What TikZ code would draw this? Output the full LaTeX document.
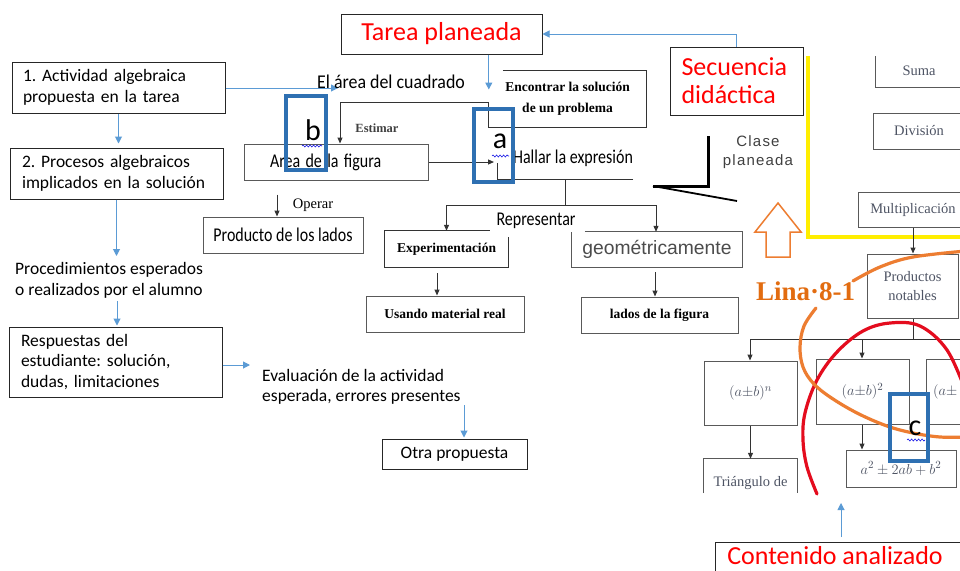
\documentclass[tikz,border=0pt]{standalone}
\usepackage{fontspec}
\usepackage{graphicx}
\setmainfont{Carlito}
\newfontfamily\calfont{Carlito}
\newfontfamily\serfont{Liberation Serif}
\newfontfamily\arfont{Liberation Sans}
\newfontfamily\arspfont[LetterSpace=8]{Liberation Sans}
\usetikzlibrary{arrows.meta,decorations.pathmorphing}
\frenchspacing

\definecolor{cblue}{RGB}{91,155,213}
\definecolor{mblue}{RGB}{46,112,178}
\definecolor{sqblue}{RGB}{20,20,230}
\definecolor{tred}{RGB}{255,0,0}
\definecolor{ered}{RGB}{228,12,30}
\definecolor{eorange}{RGB}{237,125,49}
\definecolor{lorange}{RGB}{226,108,16}
\definecolor{yel}{RGB}{255,238,0}
\definecolor{gtxt}{RGB}{78,84,100}

\newcommand\condtxt[1]{\scalebox{0.82}[1]{#1}}

\begin{document}
\begin{tikzpicture}[x=1pt,y=-1pt,
  ltxt/.style={inner sep=0pt, align=left, font=\calfont\fontsize{17.5}{20.5}\selectfont},
  lbox/.style={ltxt, draw=black!85, line width=1pt},
  rtitle/.style={draw=black!85, line width=1pt, inner sep=0pt, text=tred,
                 font=\calfont\fontsize{26}{28}\selectfont},
  cond/.style={inner sep=0pt, font=\calfont\fontsize{19.5}{22}\selectfont},
  tmb/.style={inner sep=0pt, align=center, font=\serfont\bfseries\fontsize{13.5}{21}\selectfont},
  tmr/.style={inner sep=0pt, font=\serfont\fontsize{14.5}{17}\selectfont},
  gbox/.style={draw=black!65, line width=1pt},
  kline/.style={draw=black!80, line width=1pt},
  karr/.style={kline, -{Triangle[length=6pt,width=5pt]}},
  barr/.style={draw=cblue, line width=1pt, -{Triangle[length=7pt,width=7pt]}},
  rser/.style={inner sep=0pt, align=center, text=gtxt, font=\serfont\fontsize{14.5}{19}\selectfont},
  rmath/.style={inner sep=0pt, text=gtxt, font=\fontsize{15}{17}\selectfont},
  letterbox/.style={draw=mblue, line width=4.5pt, inner sep=0pt},
  lettertxt/.style={inner sep=0pt, font=\calfont\fontsize{30}{30}\selectfont},
  squig/.style={draw=sqblue, line width=0.6pt, decorate,
                decoration={snake, amplitude=1pt, segment length=3.5pt}}
]
\useasboundingbox (0,0) rectangle (960,570);
\clip (0,0) rectangle (960,570);
\fill[white] (0,0) rectangle (960,570);

% ---------------- left column: analysis steps ----------------
\node[lbox, minimum width=213pt, minimum height=51pt, text width=191pt] (act) at (118.5,87.5)
  {1. Actividad algebraica\\propuesta en la tarea};
\node[lbox, minimum width=213pt, minimum height=51pt, text width=189pt] (proc) at (116.5,173.5)
  {2. Procesos algebraicos\\implicados en la solución};
\node[ltxt, anchor=west] (pea) at (15,280.5)
  {Procedimientos esperados\\o realizados por el alumno};
\node[lbox, minimum width=213pt, minimum height=70pt, text width=189pt] (resp) at (115.5,362)
  {Respuestas del\\estudiante: solución,\\dudas, limitaciones};
\node[ltxt, anchor=west] (eval) at (262,387)
  {Evaluación de la actividad\\esperada, errores presentes};
\node[lbox, minimum width=145pt, minimum height=30pt] (otra) at (454.5,454) {Otra propuesta};

\coordinate (peaTop) at (117,256);
\coordinate (peaBot) at (117,301);
\coordinate (evalIn) at (250,365);
\coordinate (evalOut) at (464,405);
\coordinate (elArrow) at (338,88);

\draw[barr, shorten >=4pt] (act.south) -- (act.south |- proc.north);
\draw[barr] (proc.south) -- (proc.south |- peaTop);
\draw[barr, shorten >=1pt] (peaBot) -- (peaBot |- resp.north);
\draw[barr] (resp.east |- evalIn) -- (evalIn);
\draw[barr, shorten >=1pt] (evalOut) -- (evalOut |- otra.north);
\draw[barr] (act.east |- elArrow) -- (elArrow);

% ---------------- titles ----------------
\node[rtitle, minimum width=201pt, minimum height=40pt] (tarea) at (441.5,34) {Tarea planeada};
\node[rtitle, minimum width=133pt, minimum height=68pt, text width=110pt, align=left] (sec)
  at (736.5,81) {Secuencia\\didáctica};

% ---------------- planned task map ----------------
\node[cond] (elarea) at (391,82) {\scalebox{1.12}[1]{\condtxt{El área del cuadrado}}};

\node[tmb, minimum width=157pt, minimum height=56pt] (enc) at (567.5,99)
  {Encontrar la solución\\de un problema};
\coordinate (estk) at (340,102);
\draw[kline] ([xshift=14pt]enc.north west) -- (enc.north east) -- (enc.south east)
  -- (enc.south west) -- (enc.south west |- estk) -- (estk);

\draw[barr] (sec.north) |- (tarea.east);
\draw[barr] (tarea.south -| enc.west) -- ++(0,35);

\node[tmb, text=black!75, font=\serfont\bfseries\fontsize{12.5}{15}\selectfont] (estimar) at (377,128) {Estimar};

\node[gbox, cond, minimum width=184pt, minimum height=36pt, text width=132pt, align=left] (area)
  at (336,162) {\condtxt{Area de la figura}};
\draw[karr] (estk) -- (estk |- area.north);

\node[cond] (hal) at (573,158) {\condtxt{Hallar la expresión}};
\coordinate (halSW) at (497,179);
\draw[kline] (halSW -| hal.east) -- (halSW) -- ++(0,-16);
\draw[karr, shorten >=3pt] (area.east) -- (area.east -| halSW);

\coordinate (rep) at (565,205);
\node[cond] (repr) at (536,221) {\condtxt{Representar}};

\node[tmb, minimum width=123pt, minimum height=36pt] (exp) at (446.5,249) {Experimentación};
\draw[kline] ([xshift=105pt]exp.north west) -- (exp.north west) -- (exp.south west)
  -- (exp.south east) -- ([yshift=-6pt]exp.north east);
\node[tmb, gbox, minimum width=158pt, minimum height=36pt] (usa) at (445,314) {Usando material real};

\node[inner sep=0pt, text=black!70, font=\arfont\fontsize{19.3}{22}\selectfont,
      minimum width=170pt, minimum height=35pt] (geo) at (657,249.5) {geométricamente};
\draw[kline, draw=black!65] ([xshift=13pt]geo.north west) -- (geo.north east) -- (geo.south east)
  -- (geo.south west) -- (geo.north west);
\node[tmb, gbox, minimum width=157pt, minimum height=36pt] (lados) at (659.5,315) {lados de la figura};

\draw[kline] (halSW -| rep) -- (rep);
\draw[karr] (rep) -| (exp.north);
\draw[karr] (rep) -| ([xshift=-1pt]geo.north);
\draw[karr] ([shift={(-9.5,6)}]exp.south) -- ([xshift=-9.5pt]exp.south |- usa.north);
\draw[karr] ([shift={(-2,5)}]geo.south) -- ([xshift=-2pt]geo.south |- lados.north);

\node[cond, gbox, minimum width=160pt, minimum height=36pt] (prod) at (283,235) {\condtxt{Producto de los lados}};
\node[tmr] (operar) at (313,205) {Operar};
\draw[karr] ([shift={(-6,-22)}]prod.north) -- ([xshift=-6pt]prod.north);

% ---------------- planned class ----------------
\node[inner sep=0pt, align=center, text=black!75, font=\arspfont\fontsize{15}{19}\selectfont] (clase)
  at (758,152) {Clase\\planeada};
\draw[black, line width=3pt] (708,136) -- (708,186) -- (653,186);
\draw[black, line width=1.8pt] (653,186) -- (737,201);

\draw[eorange, line width=1.5pt, fill=white] (778,203) -- (801,232) -- (790,232) -- (790,257)
  -- (766,257) -- (766,232) -- (755,232) -- cycle;

\draw[yel, line width=4pt] (808,56) -- (808,237) -- (965,237);

% ---------------- analysed content ----------------
\node[rser] (suma) at (919,71) {Suma};
\draw[gbox] (875,56) -- (875,87) -- (965,87);
\node[rser, gbox, minimum width=92pt, minimum height=36pt] (div) at (919,131) {División};
\node[rser, gbox, minimum width=110pt, minimum height=35pt, text width=100pt] (mult) at (913,209.5)
  {Multiplicación};
\node[rser, gbox, minimum width=91pt, minimum height=64pt] (pn) at (912.5,286) {Productos\\notables};
\draw[karr] (mult.south) -- (mult.south |- pn.north);

\coordinate (hb) at (913,339);
\coordinate (hbL) at (750,339);
\coordinate (hbM) at (862,339);
\draw[kline] (pn.south -| hb) -- (hb);
\draw[kline] (hbL) -- (965,339);

\node[rmath, gbox, minimum width=93pt, minimum height=64pt] (pw) at (750.5,393) {$(a{\pm}b)^n$};
\node[rmath, gbox, minimum width=93pt, minimum height=65pt] (sqr) at (862.5,391.5) {$(a{\pm}b)^2$};
\node[rmath, gbox, minimum width=94pt, minimum height=65pt] (cub) at (973,391.5) {};
\node[rmath, anchor=west] (cubtxt) at (933,392) {$(a{\pm}$};
\node[rmath, gbox, minimum width=110pt, minimum height=37pt] (dev) at (901,468.5) {$a^2\pm 2ab+b^2$};
\node[inner sep=0pt, minimum width=93pt, minimum height=34pt] (tri) at (750.5,476) {};
\node[rser] (tritxt) at (750.5,483) {Triángulo de};
\draw[gbox] (tri.south west) -- (tri.north west) -- (tri.north east) -- (tri.south east);

\draw[karr] (hbL) -- (hbL |- pw.north);
\draw[karr] (hbM) -- (hbM |- sqr.north);
\draw[karr] (pw.south) -- (pw.south |- tri.north);
\draw[karr] (sqr.south -| hbM) -- (hbM |- dev.north);

\draw[kline, draw=black!85] (715,542) rectangle (1000,620);
\node[inner sep=0pt, text=tred, anchor=base, font=\calfont\fontsize{26}{28}\selectfont] (cont)
  at (835,564) {Contenido analizado};
\coordinate (contUp) at (841,503);
\coordinate (contLow) at (841,537);
\draw[barr] (contLow) -- (contUp);

% ---------------- highlighting ellipses ----------------
\draw[ered, line width=3.2pt, line cap=round] plot[smooth, tension=0.6] coordinates
  {(817,494) (807,467) (803,440) (805,413) (817,380) (837,352) (863,331) (890,323) (920,326)
   (947,350) (966,392)};
\draw[eorange, line width=3.2pt, line cap=round] plot[smooth, tension=0.6] coordinates
  {(966,251) (913,257) (880,267) (853,281)};
\draw[eorange, line width=3.2pt, line cap=round] plot[smooth, tension=0.6] coordinates
  {(816,308) (804,326) (800,347) (803,367) (813,383) (830,397) (857,413) (887,426) (913,433)
   (940,437) (966,437)};
\node[inner sep=0pt, anchor=base west, text=lorange, font=\serfont\bfseries\fontsize{27}{30}\selectfont]
  (lina) at (756,300) {Lina·8-1};

% ---------------- letter markers ----------------
\node[letterbox, minimum width=40pt, minimum height=74pt] (boxb) at (306,133) {};
\node[lettertxt] (lb) at (313,130) {b};
\draw[squig] (302,146) -- (322,146);

\node[letterbox, minimum width=39pt, minimum height=73pt] (boxa) at (493.5,145.5) {};
\node[lettertxt] (la) at (500,141) {a};
\draw[squig] (492,156) -- (509,156);

\node[letterbox, minimum width=38pt, minimum height=67pt] (boxc) at (909,427.5) {};
\node[lettertxt] (lc) at (915,428) {c};
\draw[squig] (907,440) -- (925,440);
\end{tikzpicture}
\end{document}
